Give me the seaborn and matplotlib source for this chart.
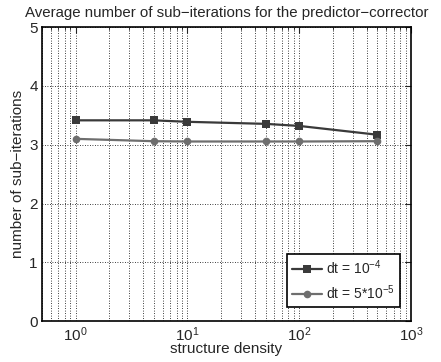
import matplotlib
matplotlib.use("Agg")
import matplotlib.pyplot as plt
import seaborn as sns
import pandas as pd
import numpy as np

density = [1, 5, 10, 50, 100, 500]
iters_dt1 = [3.415, 3.415, 3.39, 3.355, 3.32, 3.17]
iters_dt2 = [3.10, 3.06, 3.055, 3.055, 3.055, 3.06]
labels = [r"dt = $10^{-4}$", r"dt = $5{*}10^{-5}$"]
colors = ["#3a3a3a", "#6e6e6e"]
markers = ["s", "o"]

sns.set_style("white")
plt.rcParams["font.family"] = ["Liberation Sans", "DejaVu Sans"]
plt.rcParams["mathtext.fontset"] = "custom"
plt.rcParams["mathtext.rm"] = "Liberation Sans"
plt.rcParams["mathtext.it"] = "Liberation Sans"

df = pd.DataFrame({
    "density": density * 2,
    "iters": iters_dt1 + iters_dt2,
    "series": [labels[0]] * len(density) + [labels[1]] * len(density),
})

fig = plt.figure(figsize=(4.41, 3.62), dpi=100)
ax = fig.add_axes([0.095, 0.113, 0.837, 0.812])

sns.lineplot(data=df, x="density", y="iters", hue="series", style="series",
             palette=dict(zip(labels, colors)), markers=dict(zip(labels, markers)),
             dashes=False, linewidth=1.6, markersize=5.5, markeredgewidth=0,
             ax=ax)

ax.set_xscale("log")
ax.set_xlim(0.5, 1000)
ax.set_ylim(0, 5)
ax.set_yticks([0, 1, 2, 3, 4, 5])
ax.set_xticks([1, 10, 100, 1000])
ax.set_xticklabels([r"$10^{0}$", r"$10^{1}$", r"$10^{2}$", r"$10^{3}$"])
ax.grid(True, which="major", axis="both", linestyle=(0, (1, 2)), color="black", linewidth=0.6)
ax.grid(True, which="minor", axis="x", linestyle=(0, (1, 2)), color="black", linewidth=0.6)
ax.tick_params(which="both", direction="in", top=True, right=True, labelsize=11, pad=3)
ax.tick_params(which="major", length=4, width=0.8)
ax.tick_params(which="minor", length=2, width=0.6)
for s in ax.spines.values():
    s.set_linewidth(1.2)
    s.set_color("black")

ax.set_xlabel("structure density", fontsize=11, labelpad=-1)
ax.set_ylabel("number of sub\u2212iterations", fontsize=11, labelpad=3)
ax.set_title("Average number of sub\u2212iterations for the predictor\u2212corrector",
             fontsize=10.8, pad=7)

leg = ax.legend(loc="lower right", bbox_to_anchor=(0.970, 0.048), fontsize=10,
                frameon=True, fancybox=False, edgecolor="black", framealpha=1,
                handlelength=2.2, borderpad=0.35, labelspacing=0.45, handletextpad=0.3,
                borderaxespad=0)
leg.get_frame().set_linewidth(1.2)
leg.set_title(None)

fig.savefig("out.png", dpi=100)
